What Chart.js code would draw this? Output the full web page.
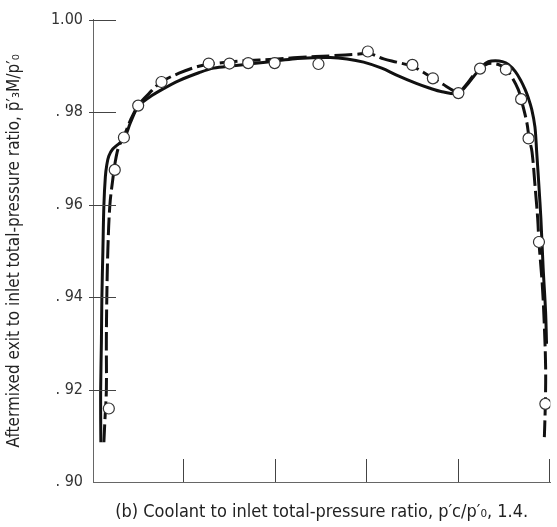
<!DOCTYPE html>
<html lang="en">
<head>
    <meta charset="UTF-8">
    <title>Aftermixed total-pressure ratio</title>
    <script src="https://cdn.jsdelivr.net/npm/chart.js"></script>
    <style>
        body { margin: 0; background: #fff; }
        .wrap { width: 557px; height: 527px; }
    </style>
</head>
<body>
<div class="wrap"><canvas id="chart"></canvas></div>

<script>
    // data points (open circles)
    const pointX = [0.173, 0.238, 0.338, 0.494, 0.749, 1.265, 1.492, 1.697, 1.986, 2.465,
                    3.005, 3.492, 3.716, 3.995, 4.232, 4.514, 4.681, 4.762, 4.876, 4.946];
    const pointY = [0.9159, 0.9675, 0.9745, 0.9814, 0.9865, 0.9905, 0.9905, 0.9906, 0.9906, 0.9904,
                    0.9931, 0.9902, 0.9873, 0.9841, 0.9894, 0.9892, 0.9828, 0.9743, 0.9519, 0.9169];

    // solid faired curve
    const solidX = [0.086, 0.084, 0.084, 0.092, 0.097, 0.108, 0.119, 0.135, 0.151, 0.173, 0.216, 0.292,
                    0.346, 0.411, 0.497, 0.616, 0.757, 0.941, 1.157, 1.319, 1.535, 1.751, 2.022, 2.238,
                    2.595, 2.778, 2.959, 3.157, 3.319, 3.535, 3.676, 3.816, 3.989, 4.076, 4.162, 4.256,
                    4.324, 4.400, 4.476, 4.541, 4.616, 4.681, 4.724, 4.757, 4.797, 4.832, 4.851, 4.876,
                    4.897, 4.922, 4.948, 4.959];
    const solidY = [0.9086, 0.9133, 0.9204, 0.9305, 0.9398, 0.9499, 0.9598, 0.9660, 0.9686, 0.9705, 0.9720, 0.9733,
                    0.9744, 0.9778, 0.9813, 0.9832, 0.9849, 0.9868, 0.9885, 0.9895, 0.9900, 0.9905, 0.9911, 0.9916,
                    0.9918, 0.9915, 0.9908, 0.9895, 0.9880, 0.9862, 0.9852, 0.9844, 0.9840, 0.9856, 0.9877, 0.9899,
                    0.9909, 0.9911, 0.9909, 0.9903, 0.9888, 0.9867, 0.9849, 0.9832, 0.9806, 0.9768, 0.9714, 0.9639,
                    0.9570, 0.9462, 0.9370, 0.9299];

    // dashed faired curve
    const dashX = [0.119, 0.130, 0.146, 0.146, 0.151, 0.162, 0.184, 0.216, 0.243, 0.281, 0.335, 0.411,
                   0.497, 0.616, 0.746, 0.941, 1.157, 1.373, 1.643, 1.968, 2.238, 2.627, 2.886, 3.016,
                   3.178, 3.319, 3.492, 3.611, 3.719, 3.827, 3.935, 3.989, 4.076, 4.162, 4.238, 4.324,
                   4.432, 4.508, 4.581, 4.649, 4.681, 4.743, 4.768, 4.800, 4.832, 4.862, 4.876, 4.912,
                   4.934, 4.949, 4.946, 4.935];
    const dashY = [0.9086, 0.9133, 0.9198, 0.9305, 0.9398, 0.9499, 0.9598, 0.9654, 0.9692, 0.9725, 0.9746, 0.9783,
                   0.9815, 0.9841, 0.9865, 0.9884, 0.9899, 0.9906, 0.9911, 0.9914, 0.9918, 0.9922, 0.9925, 0.9927,
                   0.9915, 0.9908, 0.9899, 0.9886, 0.9873, 0.9860, 0.9847, 0.9841, 0.9858, 0.9880, 0.9895, 0.9905,
                   0.9903, 0.9895, 0.9875, 0.9849, 0.9828, 0.9778, 0.9744, 0.9714, 0.9643, 0.9570, 0.9518, 0.9428,
                   0.9342, 0.9247, 0.9170, 0.9097];

    const yTicks = [0.90, 0.92, 0.94, 0.96, 0.98, 1.00];
    const xTicks = [1, 2, 3, 4, 5];

    const xy = (xs, ys) => xs.map((x, i) => ({x: x, y: ys[i]}));
    const font = '"DejaVu Sans Condensed", "DejaVu Sans", sans-serif';

    // short inward tick marks like the original plot
    const inwardTicks = {
        id: 'inwardTicks',
        afterDraw(chart) {
            const {ctx, chartArea, scales} = chart;
            ctx.save();
            ctx.strokeStyle = '#444';
            ctx.lineWidth = 1;
            ctx.beginPath();
            yTicks.forEach(v => {
                if (v === 0.90) return;
                const y = Math.round(scales.y.getPixelForValue(v)) + 0.5;
                ctx.moveTo(chartArea.left - 4, y);
                ctx.lineTo(chartArea.left + 23, y);
            });
            xTicks.forEach(v => {
                const x = Math.round(scales.x.getPixelForValue(v)) - 0.5;
                ctx.moveTo(x, chartArea.bottom);
                ctx.lineTo(x, chartArea.bottom - 23);
            });
            ctx.stroke();
            ctx.restore();
        }
    };

    new Chart(document.getElementById('chart'), {
        type: 'line',
        data: {
            datasets: [{
                label: 'data',
                data: xy(pointX, pointY),
                showLine: false,
                pointRadius: 5.5,
                pointBackgroundColor: '#fff',
                pointBorderColor: '#333',
                pointBorderWidth: 1.2
            }, {
                label: 'solid',
                data: xy(solidX, solidY),
                borderColor: '#111',
                borderWidth: 3,
                pointRadius: 0,
                tension: 0.35
            }, {
                label: 'dashed',
                data: xy(dashX, dashY),
                borderColor: '#111',
                borderWidth: 3,
                borderDash: [18, 5],
                pointRadius: 0,
                tension: 0.35
            }]
        },
        options: {
            responsive: true,
            maintainAspectRatio: false,
            animation: false,
            layout: { padding: { top: 17, right: 1.5, left: 0, bottom: 0 } },
            plugins: { legend: { display: false }, tooltip: { enabled: false } },
            scales: {
                x: {
                    type: 'linear',
                    min: 0,
                    max: 5,
                    grid: { display: false },
                    border: { display: true, color: '#666', width: 1 },
                    ticks: { display: false },
                    title: {
                        display: true,
                        text: '(b) Coolant to inlet total-pressure ratio, p′c/p′₀, 1.4.',
                        color: '#222',
                        font: { family: font, size: 18 },
                        padding: { top: 0, bottom: 4 }
                    },
                    afterFit(scale) { scale.height = 45; }
                },
                y: {
                    min: 0.90,
                    max: 1.00,
                    grid: { display: false, drawTicks: false },
                    border: { display: true, color: '#666', width: 1 },
                    ticks: {
                        stepSize: 0.02,
                        padding: 10,
                        color: '#333',
                        font: { family: font, size: 16 },
                        callback: v => v >= 0.999 ? '1.00' : '. ' + v.toFixed(2).slice(2)
                    },
                    title: {
                        display: true,
                        text: 'Aftermixed exit to inlet total-pressure ratio, p̄′₃M/p′₀',
                        color: '#222',
                        font: { family: font, size: 17 },
                        padding: { top: 4, bottom: 0 }
                    },
                    afterFit(scale) { scale.width = 93; }
                }
            }
        },
        plugins: [inwardTicks]
    });
</script>
</body>
</html>
